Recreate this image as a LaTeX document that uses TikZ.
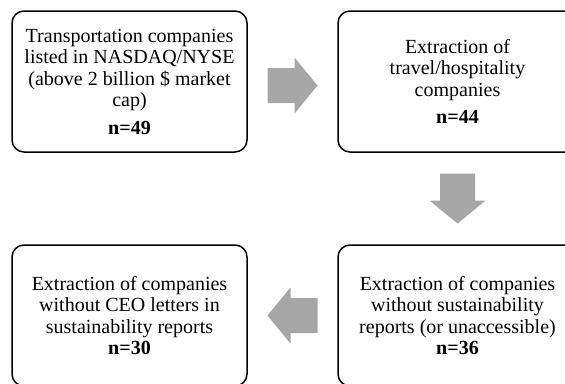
\documentclass[tikz,border=0pt]{standalone}
\usepackage{fontspec}
\setmainfont{Liberation Serif}
\usetikzlibrary{calc}
\definecolor{arrowgray}{HTML}{A6A6A6}
\tikzset{
  stagebox/.style={draw, line width=1.5pt, rounded corners=12pt, align=center,
    minimum height=141pt, inner sep=0pt, font=\fontsize{20}{21.5}\selectfont},
  blockarrow/.pic={\fill[arrowgray] (-25,-17.5) -- (2,-17.5) -- (2,-28) -- (25,0) -- (2,28) -- (2,17.5) -- (-25,17.5) -- cycle;}
}
\begin{document}
\begin{tikzpicture}[x=1pt,y=-1pt]
    \clip (0,0) rectangle (565,383);
    \node[stagebox, minimum width=235pt] (trans) at (129.5,81.5) {Transportation companies\\listed in NASDAQ/NYSE\\(above 2 billion \$ market\\cap)\\[6pt]\textbf{n=49}};
    \node[stagebox, minimum width=239pt] (travel) at (457.5,81.5) {Extraction of\\travel/hospitality\\companies\\[6pt]\textbf{n=44}};
    \node[stagebox, minimum width=239pt] (noreport) at (457.5,315.5) {Extraction of companies\\without sustainability\\reports (or unaccessible)\\\textbf{n=36}};
    \node[stagebox, minimum width=235pt] (noceo) at (129.5,315.5) {Extraction of companies\\without CEO letters in\\sustainability reports\\\textbf{n=30}};
    \pic[yshift=-4pt] at ($(trans.east)!0.5!(travel.west)$) {blockarrow};
    \pic[rotate=-90] at ($(travel.south)!0.5!(noreport.north)$) {blockarrow};
    \pic[rotate=180] at ($(noreport.west)!0.5!(noceo.east)$) {blockarrow};
\end{tikzpicture}
\end{document}
